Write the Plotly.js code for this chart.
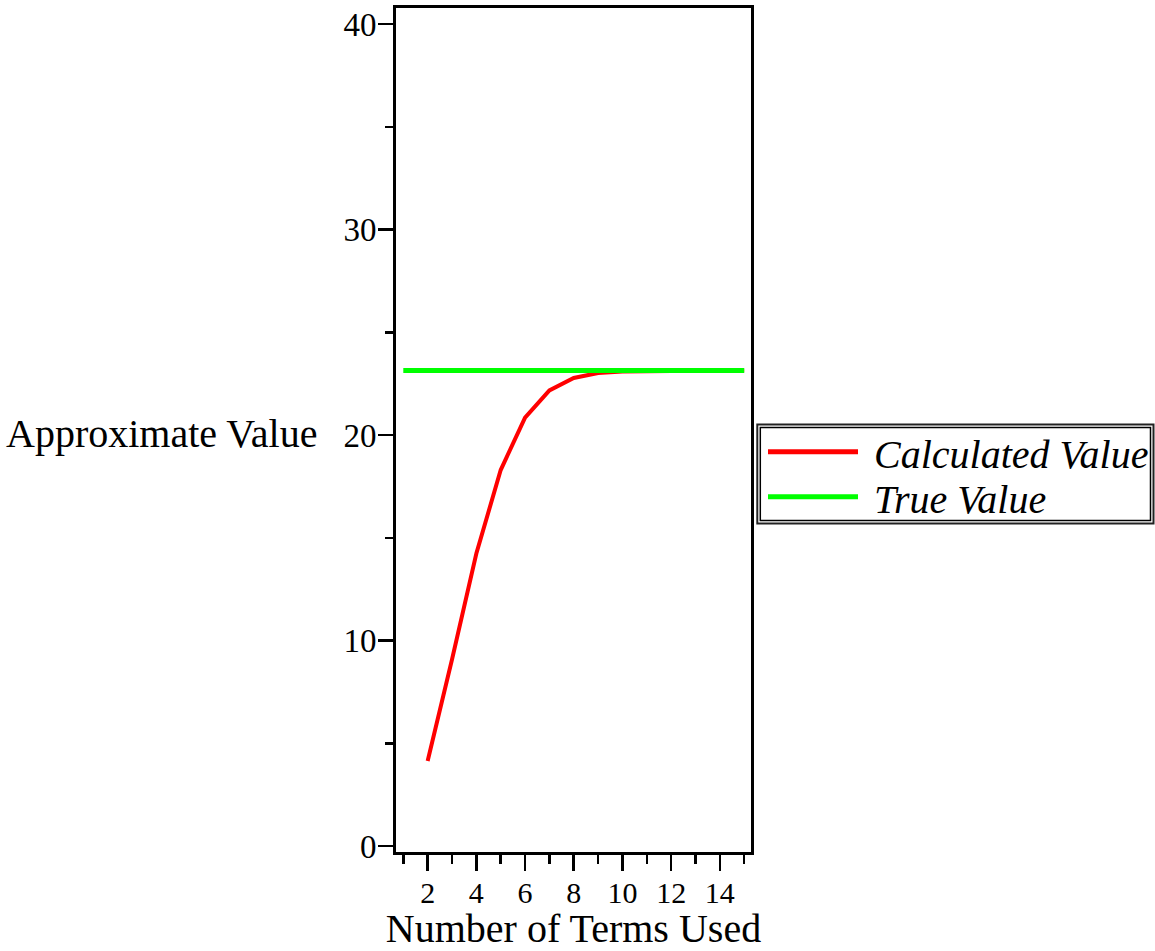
<!DOCTYPE html>
<html>
<head>
<meta charset="utf-8">
<script src="https://cdn.plot.ly/plotly-3.0.1.min.js"></script>
<style>
  html, body { margin: 0; padding: 0; background: #fff; }
  #chart { width: 1155px; height: 951px; }
</style>
</head>
<body>
<div id="chart"></div>
<script>
// ---- data ----
const termsUsed = [2, 3, 4, 5, 6, 7, 8, 9, 10, 11, 12, 13, 14, 15];
const calculatedValue = [4.14, 9.08, 14.24, 18.30, 20.85, 22.18, 22.78, 23.02, 23.10, 23.12, 23.13, 23.14, 23.14, 23.14];
const trueX = [1, 15];
const trueValue = [23.14, 23.14];
const seriesNames = ["Calculated Value", "True Value"];
const xTitle = "Number of Terms Used";
const yTitle = "Approximate Value";

// ---- styling ----
const RED = "#ff0000";
const GREEN = "#00ff00";
const FONT = "Liberation Serif, Times New Roman, Times, serif";
const W = 1155, H = 951;
const M = { l: 396, r: 404, t: 8, b: 99 };
const PW = W - M.l - M.r, PH = H - M.t - M.b;
const px = x => (x - M.l) / PW;      // pixel x -> paper x
const py = y => (H - M.b - y) / PH;  // pixel y -> paper y

const traces = [
  { x: termsUsed, y: calculatedValue, name: seriesNames[0], mode: "lines",
    line: { color: RED, width: 4 }, showlegend: false },
  { x: trueX, y: trueValue, name: seriesNames[1], mode: "lines",
    line: { color: GREEN, width: 5 }, showlegend: false }
];

const legendRows = [
  { name: seriesNames[0], color: RED, y: 451.7, width: 5 },
  { name: seriesNames[1], color: GREEN, y: 496.7, width: 5 }
];

const shapes = [
  { type: "rect", xref: "paper", yref: "paper", x0: px(757.3), x1: px(1153.5), y0: py(424.5), y1: py(523.5),
    line: { color: "#222", width: 2 }, fillcolor: "rgba(0,0,0,0)" },
  { type: "rect", xref: "paper", yref: "paper", x0: px(760.3), x1: px(1150.5), y0: py(427.5), y1: py(520.5),
    line: { color: "#000", width: 1.5 }, fillcolor: "rgba(0,0,0,0)" }
];
const annotations = [
  { text: yTitle, xref: "paper", yref: "paper", x: px(4), y: py(434), xanchor: "left", yanchor: "middle",
    showarrow: false, font: { family: FONT, size: 40, color: "#000" } }
];
legendRows.forEach(r => {
  shapes.push({ type: "line", xref: "paper", yref: "paper", x0: px(768), x1: px(858), y0: py(r.y), y1: py(r.y),
    line: { color: r.color, width: r.width } });
  annotations.push({ text: "<i>" + r.name + "</i>", xref: "paper", yref: "paper", x: px(872), y: py(r.y + 3),
    xanchor: "left", yanchor: "middle", showarrow: false, font: { family: FONT, size: 40, color: "#000" } });
});

const layout = {
  width: W, height: H,
  margin: M,
  paper_bgcolor: "#fff", plot_bgcolor: "#fff",
  font: { family: FONT, color: "#000" },
  showlegend: false,
  xaxis: {
    range: [0.70, 15.28], tickmode: "linear", tick0: 0, dtick: 2,
    showgrid: false, zeroline: false,
    showline: true, mirror: true, linecolor: "#000", linewidth: 3,
    ticks: "outside", ticklen: 16, tickwidth: 2.5, tickcolor: "#000",
    ticklabelstandoff: -4,
    minor: { tickmode: "linear", tick0: 1, dtick: 2, ticks: "outside", ticklen: 9, tickwidth: 2.5, tickcolor: "#000", showgrid: false },
    tickfont: { family: FONT, size: 30, color: "#000" },
    title: { text: xTitle, font: { family: FONT, size: 40, color: "#000" }, standoff: 10 }
  },
  yaxis: {
    range: [-0.29, 40.79], tickmode: "linear", tick0: 0, dtick: 10,
    showgrid: false, zeroline: false,
    showline: true, mirror: true, linecolor: "#000", linewidth: 3,
    ticks: "outside", ticklen: 15, tickwidth: 2.5, tickcolor: "#000",
    ticklabelstandoff: -5,
    minor: { tickmode: "linear", tick0: 5, dtick: 10, ticks: "outside", ticklen: 8, tickwidth: 2.5, tickcolor: "#000", showgrid: false },
    tickfont: { family: FONT, size: 33, color: "#000" }
  },
  shapes: shapes,
  annotations: annotations
};

Plotly.newPlot("chart", traces, layout, { displayModeBar: false, staticPlot: true });
</script>
</body>
</html>
